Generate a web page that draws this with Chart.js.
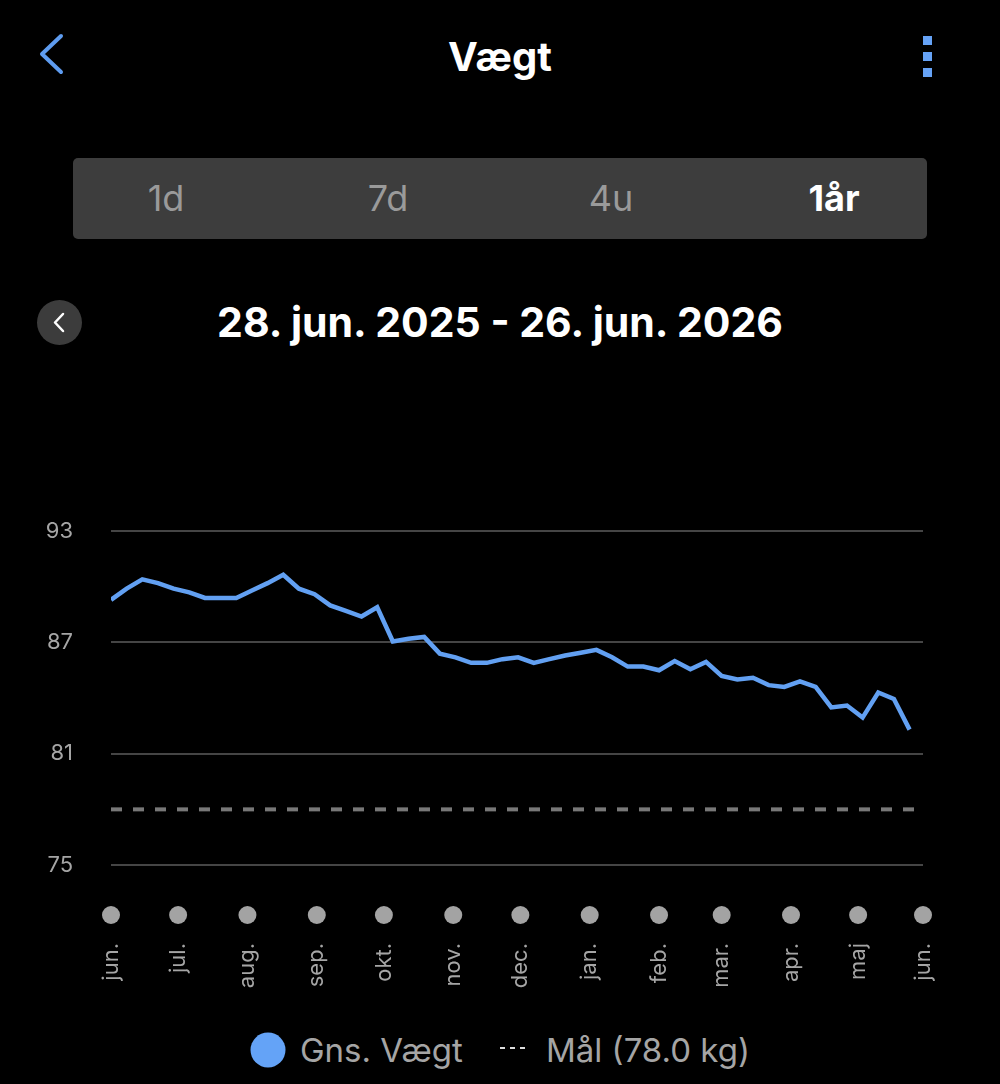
<!DOCTYPE html>
<html lang="da">
<head>
<meta charset="utf-8">
<title>Vægt</title>
<script src="https://cdn.jsdelivr.net/npm/chart.js@4.4.1/dist/chart.umd.min.js"></script>
<style>
  html, body { margin: 0; padding: 0; background: #000; }
  body { width: 1000px; height: 1084px; position: relative; overflow: hidden; font-family: "Inter", "Noto Sans", sans-serif; }
  .abs { position: absolute; }
  .title { left: 0; width: 1000px; top: 30px; text-align: center; color: #fff; font-weight: 700; font-size: 40px; line-height: 54px; }
  .segment { left: 73px; top: 158px; width: 854px; height: 81px; background: #3d3d3d; border-radius: 5px; }
  .seg { top: 0; height: 81px; line-height: 81px; width: 160px; margin-left: -80px; text-align: center; color: #9a9a9a; font-size: 36px; }
  .seg.on { color: #fff; font-weight: 700; }
  .datebtn { left: 37px; top: 300px; width: 45px; height: 45px; border-radius: 50%; background: #3c3c3c; }
  .daterange { left: 0; width: 1000px; top: 297px; text-align: center; color: #fff; font-weight: 700; font-size: 41px; line-height: 50px; }
  #wrap { left: 0; top: 480px; width: 1000px; height: 540px; }
  .legend { top: 1026px; height: 48px; line-height: 48px; color: #a5a5a5; font-size: 33px; }
</style>
</head>
<body>

<svg class="abs" style="left:0;top:0" width="1000" height="100">
  <polyline points="61,36 42,54 61,72" fill="none" stroke="#5e9cf0" stroke-width="4" stroke-linecap="round" stroke-linejoin="round"/>
  <rect x="923" y="36" width="9" height="9" fill="#66a3f6"/>
  <rect x="923" y="52" width="9" height="9" fill="#66a3f6"/>
  <rect x="923" y="68" width="9" height="9" fill="#66a3f6"/>
</svg>
<div class="abs title">Vægt</div>

<div class="abs segment">
  <div class="abs seg" style="left:93px">1d</div>
  <div class="abs seg" style="left:315px">7d</div>
  <div class="abs seg" style="left:538px">4u</div>
  <div class="abs seg on" style="left:761px">1år</div>
</div>

<div class="abs datebtn"></div>
<svg class="abs" style="left:37px;top:300px" width="45" height="45">
  <polyline points="26,14 18,22.5 26,31" fill="none" stroke="#fff" stroke-width="2.5" stroke-linecap="round" stroke-linejoin="round"/>
</svg>
<div class="abs daterange">28. jun. 2025 - 26. jun. 2026</div>

<div class="abs" id="wrap"><canvas id="weightChart"></canvas></div>

<svg class="abs" style="left:250px;top:1032px" width="36" height="36">
  <circle cx="18" cy="18" r="17.5" fill="#64a3f7"/>
</svg>
<div class="abs legend" style="left:300px">Gns. Vægt</div>
<svg class="abs" style="left:498px;top:1044px" width="30" height="8">
  <line x1="2" y1="4" x2="28" y2="4" stroke="#ddd" stroke-width="2" stroke-dasharray="5,5"/>
</svg>
<div class="abs legend" style="left:546px">Mål (78.0 kg)</div>

<script>
/* --- Data (dage efter 28. jun. 2025) --- */
const weekDays = [0, 7, 14, 21, 28, 35, 42, 49, 56, 63, 70, 77, 84, 91, 98, 105, 112, 119, 126, 133,
  140, 147, 154, 161, 168, 175, 182, 189, 196, 203, 210, 217, 224, 231, 238, 245, 252, 259, 266, 273,
  280, 287, 294, 301, 308, 315, 322, 329, 336, 343, 350, 357];
const avgWeight = [89.3, 89.9, 90.4, 90.2, 89.9, 89.7, 89.4, 89.4, 89.4, 89.8, 90.2, 90.65, 89.9, 89.6, 89.0, 88.7, 88.4, 88.9, 87.05, 87.2,
  87.3, 86.4, 86.2, 85.9, 85.9, 86.1, 86.2, 85.9, 86.1, 86.3, 86.45, 86.6, 86.2, 85.7, 85.7, 85.5, 86.0, 85.55, 85.95, 85.2,
  85.0, 85.1, 84.7, 84.6, 84.9, 84.6, 83.5, 83.6, 82.95, 84.3, 83.95, 82.3];

const goalDays = [0, 363];
const goalWeight = [78, 78];

const monthDays = [0, 30, 61, 92, 122, 153, 183, 214, 245, 273, 304, 334, 363];
const monthLabels = ['jun.', 'jul.', 'aug.', 'sep.', 'okt.', 'nov.', 'dec.', 'jan.', 'feb.', 'mar.', 'apr.', 'maj', 'jun.'];

const yTicks = [75, 81, 87, 93];

/* --- Farver --- */
const LINE_BLUE = '#62a0f2';
const MUTED = '#a5a5a5';
const FONT = '"Inter", "Noto Sans", sans-serif';

/* --- Grå prikker over månedsnavnene --- */
const monthDots = {
  id: 'monthDots',
  afterDraw(chart) {
    const { ctx, chartArea, scales: { x } } = chart;
    ctx.save();
    ctx.fillStyle = '#a3a3a3';
    monthDays.forEach(d => {
      ctx.beginPath();
      ctx.arc(x.getPixelForValue(d), chartArea.bottom + 50, 9, 0, Math.PI * 2);
      ctx.fill();
    });
    ctx.restore();
  }
};

const chart = new Chart(document.getElementById('weightChart'), {
  type: 'line',
  data: {
    datasets: [{
      label: 'Gns. Vægt',
      data: weekDays.map((d, i) => ({ x: d, y: avgWeight[i] })),
      borderColor: LINE_BLUE,
      borderWidth: 4.5,
      pointRadius: 0,
      tension: 0,
      fill: false
    }, {
      label: 'Mål (78.0 kg)',
      data: goalDays.map((d, i) => ({ x: d, y: goalWeight[i] })),
      borderColor: '#787878',
      borderWidth: 4,
      borderDash: [11, 11],
      pointRadius: 0,
      fill: false
    }]
  },
  options: {
    responsive: true,
    maintainAspectRatio: false,
    animation: false,
    layout: { padding: { top: 50, right: 77, bottom: 0, left: 0 } },
    plugins: {
      legend: { display: false },
      tooltip: { enabled: false }
    },
    scales: {
      x: {
        type: 'linear',
        min: 0,
        max: 363,
        afterBuildTicks: scale => { scale.ticks = monthDays.map(v => ({ value: v })); },
        afterFit: scale => {
          scale.height = 155;
          scale.paddingLeft = 0;
          scale.paddingRight = 0;
        },
        grid: { display: false, drawTicks: false },
        border: { display: false },
        ticks: {
          autoSkip: false,
          minRotation: 90,
          maxRotation: 90,
          padding: 78,
          color: MUTED,
          font: { family: FONT, size: 22 },
          callback: (v, i) => monthLabels[i]
        }
      },
      y: {
        min: 75,
        max: 93,
        afterBuildTicks: scale => { scale.ticks = yTicks.map(v => ({ value: v })); },
        afterFit: scale => { scale.width = 111; },
        grid: { color: '#454545', lineWidth: 2, drawTicks: false },
        border: { display: false },
        ticks: {
          padding: 38,
          color: MUTED,
          font: { family: FONT, size: 22 }
        }
      }
    }
  },
  plugins: [monthDots]
});
</script>
</body>
</html>
